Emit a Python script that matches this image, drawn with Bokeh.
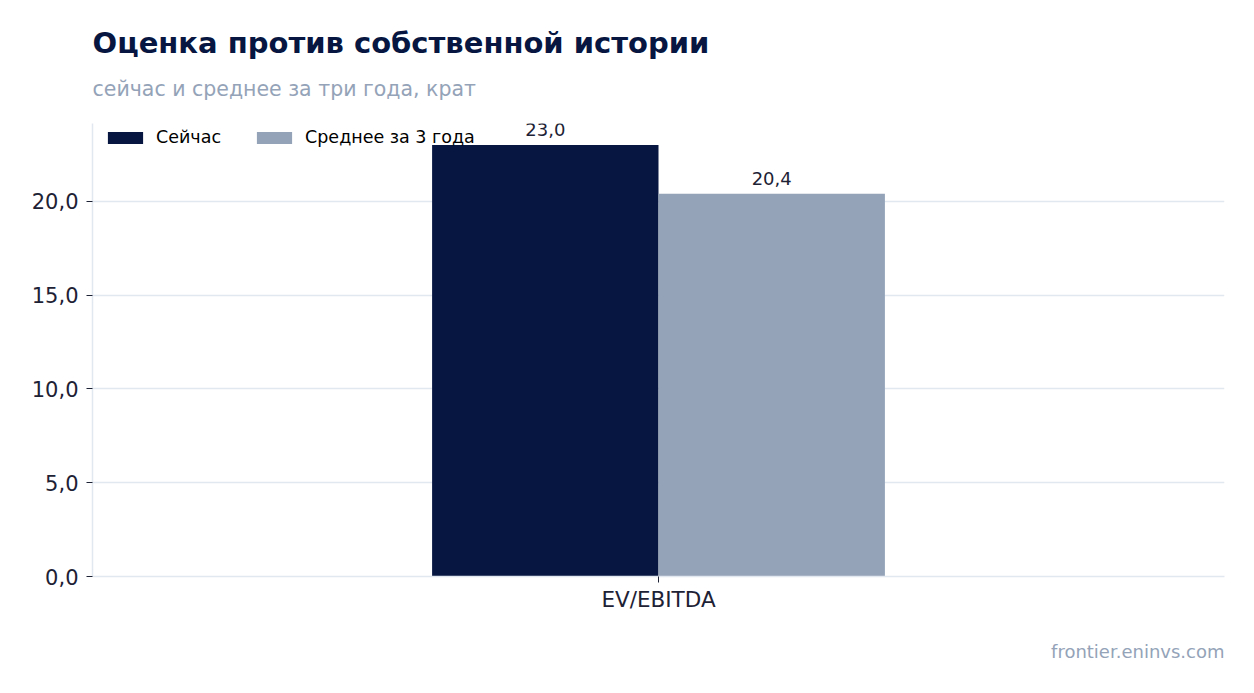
from bokeh.plotting import figure
from bokeh.models import ColumnDataSource, FactorRange, Range1d, Title, LabelSet, Legend, LegendItem, CustomJSTickFormatter
from bokeh.core.properties import value
from bokeh.transform import dodge
from bokeh.embed import file_html
from bokeh.resources import INLINE

# данные
metrics = ["EV/EBITDA"]
now_vals = [23.0]
avg3_vals = [20.4]
now_txt = ["23,0"]
avg3_txt = ["20,4"]

DARK = "#061641"
GREY = "#94a3b8"
LIGHT = "#e2e8f0"
TXT = "#1e2235"
FONT = "DejaVu Sans"

source = ColumnDataSource(dict(metric=metrics, now=now_vals, avg3=avg3_vals,
                               now_txt=now_txt, avg3_txt=avg3_txt))

p = figure(x_range=FactorRange(*metrics), y_range=Range1d(0, 24.15),
           width=1246, height=685, output_backend="svg", toolbar_location=None,
           min_border_left=92, min_border_right=22, min_border_top=123, min_border_bottom=109)
p.outline_line_color = None

r1 = p.vbar(x=dodge("metric", -0.1, range=p.x_range), top="now", width=0.2, source=source,
            color=DARK, line_color=None)
r2 = p.vbar(x=dodge("metric", 0.1, range=p.x_range), top="avg3", width=0.2, source=source,
            color=GREY, line_color=None)

# подписи значений
p.add_layout(LabelSet(x=dodge("metric", -0.1, range=p.x_range), y="now", text="now_txt", source=source,
                      y_offset=9, text_align="center", text_baseline="alphabetic",
                      text_font=value(FONT), text_font_size="18px", text_color=TXT))
p.add_layout(LabelSet(x=dodge("metric", 0.1, range=p.x_range), y="avg3", text="avg3_txt", source=source,
                      y_offset=9, text_align="center", text_baseline="alphabetic",
                      text_font=value(FONT), text_font_size="18px", text_color=TXT))

# оси
p.xgrid.grid_line_color = None
p.ygrid.grid_line_color = LIGHT
p.ygrid.grid_line_width = 1.5
p.yaxis.formatter = CustomJSTickFormatter(code="return tick.toFixed(1).replace('.', ',');")
p.yaxis.ticker = [0, 5, 10, 15, 20]
for ax in (p.xaxis, p.yaxis):
    ax.axis_line_color = LIGHT
    ax.axis_line_width = 1.5
    ax.major_tick_line_color = TXT
    ax.major_tick_in = 0
    ax.major_tick_out = 6
    ax.minor_tick_line_color = None
    ax.major_label_text_font = FONT
    ax.major_label_text_color = TXT
p.yaxis.major_label_text_font_size = "21px"
p.xaxis.major_label_text_font_size = "21.5px"
p.yaxis.major_label_standoff = 8
p.xaxis.major_label_standoff = 4

# легенда
legend = Legend(items=[LegendItem(label="Сейчас", renderers=[r1]),
                       LegendItem(label="Среднее за 3 года", renderers=[r2])],
                location=(11, 429), orientation="horizontal",
                glyph_width=44, glyph_height=15, label_height=15, label_standoff=9, spacing=31,
                margin=0, padding=8, border_line_color=None, background_fill_alpha=0,
                label_text_font=FONT, label_text_font_size="17.5px", label_text_color="#000000")
p.add_layout(legend)

# заголовки
p.title.text = "Оценка против собственной истории"
p.title.text_font = FONT
p.title.text_font_size = "29px"
p.title.text_font_style = "bold"
p.title.text_color = DARK
p.title.align = "left"
p.title.standoff = -17
p.add_layout(Title(text="сейчас и среднее за три года, крат", text_font=FONT, text_font_size="20.5px",
                   text_font_style="normal", text_color=GREY, align="left", standoff=46), "above")
p.add_layout(Title(text="frontier.eninvs.com", text_font=FONT, text_font_size="18px",
                   text_font_style="normal", text_color=GREY, align="right", standoff=48), "below")

open("out.html", "w").write(file_html(p, INLINE))
